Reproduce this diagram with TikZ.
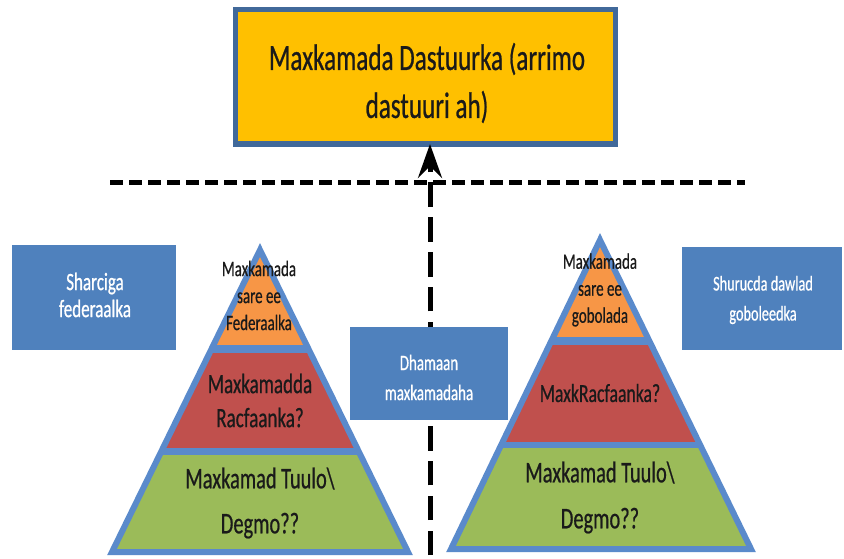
\documentclass[tikz,border=0pt]{standalone}
\usepackage{fontspec}
\setmainfont{Carlito}[FakeStretch=0.68,FakeBold=0.6]
\usetikzlibrary{arrows.meta}
\definecolor{boxblue}{HTML}{4F81BD}
\definecolor{edgeblue}{HTML}{41699A}
\definecolor{pyrblue}{HTML}{5A8ACB}
\definecolor{gold}{HTML}{FFC000}
\definecolor{layerorange}{HTML}{F79646}
\definecolor{layerred}{HTML}{C0504D}
\definecolor{layergreen}{HTML}{9BBB59}
\definecolor{inktext}{HTML}{1A1A1A}
\tikzset{
  topbox/.style={draw=edgeblue, line width=5.5pt, fill=gold, minimum width=380pt, minimum height=134.5pt, inner sep=0pt, outer sep=0pt},
  bluebox/.style={fill=boxblue, inner sep=0pt, outer sep=0pt},
  txt/.style={inner sep=0pt, align=center, text=inktext},
  whitetxt/.style={inner sep=0pt, align=center, text=white},
  pyrline/.style={draw=pyrblue, line width=6pt, line join=miter},
  hdash/.style={line width=5pt, dash pattern=on 13pt off 6pt},
  vdash/.style={line width=5pt, dash pattern=on 24.5pt off 10.3pt, dash phase=30.8pt},
}
\begin{document}
\begin{tikzpicture}[x=1pt,y=-1pt]
\useasboundingbox (0,0) rectangle (844,559);
\fill[white] (0,0) rectangle (844,559);

% top box
\node[topbox] (court) at (425.5,76.75) {};
\node[txt, font=\fontsize{37}{48}\selectfont] (courttext) at (427,83) {Maxkamada Dastuurka (arrimo\\dastuuri ah)};

% horizontal dashed line
\coordinate (hl) at (110,183);
\coordinate (hr) at (745,183);
\draw[hdash] (hl) -- (hr);

% left pyramid
\begin{scope}
\path[clip] (260,250) -- (112,552) -- (408,552) -- cycle;
\fill[pyrblue] (100,230) rectangle (420,560);
\fill[layerorange] (100,230) rectangle (420,345);
\fill[layerred] (100,353) rectangle (420,448);
\fill[layergreen] (100,455) rectangle (420,560);
\end{scope}
\draw[pyrline] (260,250) -- (112,552) -- (408,552) -- cycle;

% right pyramid
\begin{scope}
\path[clip] (600,240) -- (451,549) -- (751,549) -- cycle;
\fill[pyrblue] (440,220) rectangle (760,560);
\fill[layerorange] (440,220) rectangle (760,337);
\fill[layerred] (440,345) rectangle (760,442);
\fill[layergreen] (440,448) rectangle (760,560);
\end{scope}
\draw[pyrline] (600,240) -- (451,549) -- (751,549) -- cycle;

% vertical dashed arrow
\coordinate (vb) at (430,559);
\draw[vdash, -{Stealth[length=34pt,width=24pt,inset=12pt]}] (vb) -- (vb |- court.south);

% side boxes
\node[bluebox, minimum width=164pt, minimum height=105pt] (fedlaw) at (94,297.5) {};
\node[whitetxt, font=\fontsize{25}{27}\selectfont] (fedlawtext) at (95,295) {Sharciga\\federaalka};

\node[bluebox, minimum width=158pt, minimum height=93pt] (allcourts) at (429,373.5) {};
\node[whitetxt, font=\fontsize{22}{30}\selectfont] (allcourtstext) at (429,377.5) {Dhamaan\\maxkamadaha};

\node[bluebox, minimum width=160pt, minimum height=103pt] (statelaw) at (762,298.5) {};
\node[whitetxt, font=\fontsize{21}{30}\selectfont] (statelawtext) at (763,300) {Shurucda dawlad\\goboleedka};

% left pyramid texts
\node[txt, font=\fontsize{22}{27}\selectfont] (lsup) at (259,295.5) {Maxkamada\\sare ee\\Federaalka};
\node[txt, font=\fontsize{28}{34}\selectfont] (lapp) at (260,400.5) {Maxkamadda\\Racfaanka?};
\node[txt, font=\fontsize{30}{45}\selectfont] (lloc) at (260,503) {Maxkamad Tuulo\textbackslash\\Degmo??};

% right pyramid texts
\node[txt, font=\fontsize{22}{27}\selectfont] (rsup) at (600,290) {Maxkamada\\sare ee\\gobolada};
\node[txt, font=\fontsize{26}{32}\selectfont] (rapp) at (600,393) {MaxkRacfaanka?};
\node[txt, font=\fontsize{30}{46}\selectfont] (rloc) at (600,497.5) {Maxkamad Tuulo\textbackslash\\Degmo??};
\end{tikzpicture}
\end{document}
